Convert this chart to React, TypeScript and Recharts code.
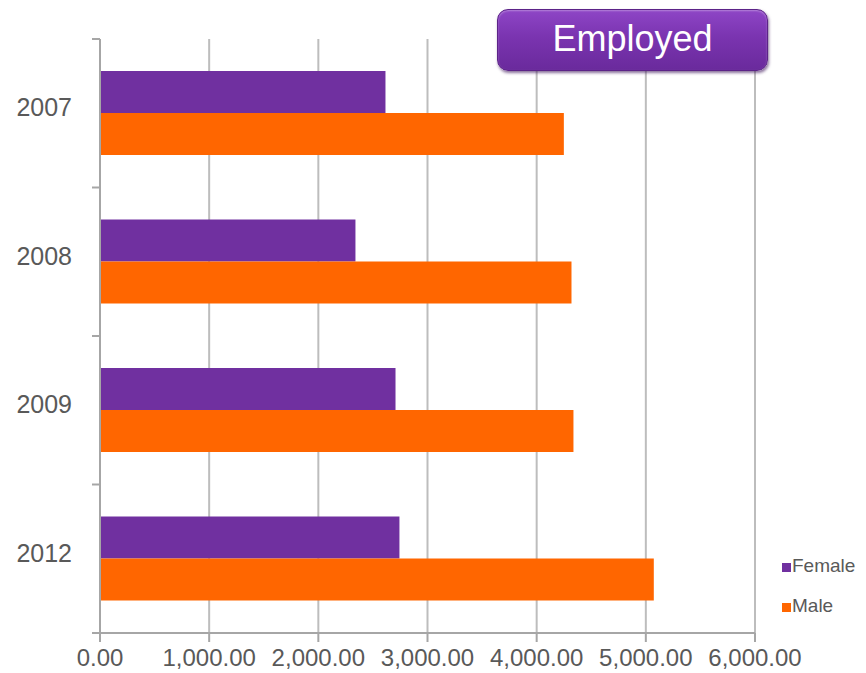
import React from "react"
import { BarChart, Bar, XAxis, YAxis, CartesianGrid } from "recharts"

const years = ["2007", "2008", "2009", "2012"]
const female = [2615, 2340, 2707, 2743]
const male = [4249, 4319, 4337, 5073]
const xTicks = [0, 1000, 2000, 3000, 4000, 5000, 6000]

const series = [
  { key: "Female", color: "#7030A0" },
  { key: "Male", color: "#FF6600" },
]

const data = years.map((year, i) => ({ year, Female: female[i], Male: male[i] }))

const W = 866
const H = 673
const TOP = 39
const LEFT = 100
const RIGHT = 111
const XAXIS_H = 40
const BAND = (H - TOP - XAXIS_H) / years.length
const FONT = '"Liberation Sans", Arial, sans-serif'
const TEXT = "#595959"
const AXIS = "#A6A6A6"
const GRID = "#BDBDBD"

const fmt = (v: number) =>
  v.toLocaleString("en-US", { minimumFractionDigits: 2, maximumFractionDigits: 2 })

const YearTick = (props: any) => {
  const { x, y, payload, index } = props
  const half = BAND / 2
  return (
    <g>
      <line x1={LEFT - 8} x2={LEFT} y1={y - half} y2={y - half} stroke={AXIS} strokeWidth={2} />
      {index === years.length - 1 && (
        <line x1={LEFT - 8} x2={LEFT} y1={y + half} y2={y + half} stroke={AXIS} strokeWidth={2} />
      )}
      <text x={x} y={y - 6} dy="0.355em" textAnchor="end" fill={TEXT} fontSize={25} fontFamily={FONT}>
        {payload.value}
      </text>
    </g>
  )
}

const LegendBox = () => (
  <div
    style={{
      position: "absolute",
      left: 782,
      top: 546,
      fontFamily: FONT,
      fontSize: 19,
      color: TEXT,
      lineHeight: "40px",
    }}
  >
    {series.map((s) => (
      <div key={s.key} style={{ whiteSpace: "nowrap" }}>
        <span
          style={{
            display: "inline-block",
            width: 9,
            height: 9,
            background: s.color,
            marginRight: 1,
          }}
        />
        {s.key}
      </div>
    ))}
  </div>
)

export default function App() {
  return (
    <div style={{ position: "absolute", left: 0, top: 0, width: W, height: H, background: "#fff" }}>
      <BarChart
        width={W}
        height={H}
        data={data}
        layout="vertical"
        margin={{ top: TOP, right: RIGHT, bottom: 0, left: 0 }}
        barGap={0}
      >
        <CartesianGrid horizontal={false} stroke={GRID} strokeWidth={2} />
        <XAxis
          type="number"
          domain={[0, 6000]}
          ticks={xTicks}
          tickFormatter={fmt}
          height={XAXIS_H}
          tickSize={9}
          tickMargin={7}
          axisLine={{ stroke: AXIS, strokeWidth: 2 }}
          tickLine={{ stroke: AXIS, strokeWidth: 2 }}
          tick={{ fill: TEXT, fontSize: 24, fontFamily: FONT }}
          interval={0}
        />
        <YAxis
          type="category"
          dataKey="year"
          width={LEFT}
          tickSize={0}
          tickMargin={28}
          tickLine={false}
          axisLine={{ stroke: AXIS, strokeWidth: 2 }}
          tick={<YearTick />}
          interval={0}
        />
        {series.map((s) => (
          <Bar key={s.key} dataKey={s.key} fill={s.color} barSize={42} isAnimationActive={false} />
        ))}
      </BarChart>
      <LegendBox />
      <div
        style={{
          position: "absolute",
          left: 497,
          top: 9,
          width: 271,
          height: 62,
          borderRadius: 11,
          background: "linear-gradient(#8E45C6 0%, #7A34B0 45%, #6A2A9C 100%)",
          boxShadow: "1px 2px 3px rgba(60,20,90,0.6), inset 0 1px 2px rgba(255,255,255,0.35)",
          border: "1px solid #5C2388",
          boxSizing: "border-box",
          color: "#fff",
          fontFamily: FONT,
          fontSize: 36,
          lineHeight: "58px",
          textAlign: "center",
        }}
      >
        Employed
      </div>
    </div>
  )
}
